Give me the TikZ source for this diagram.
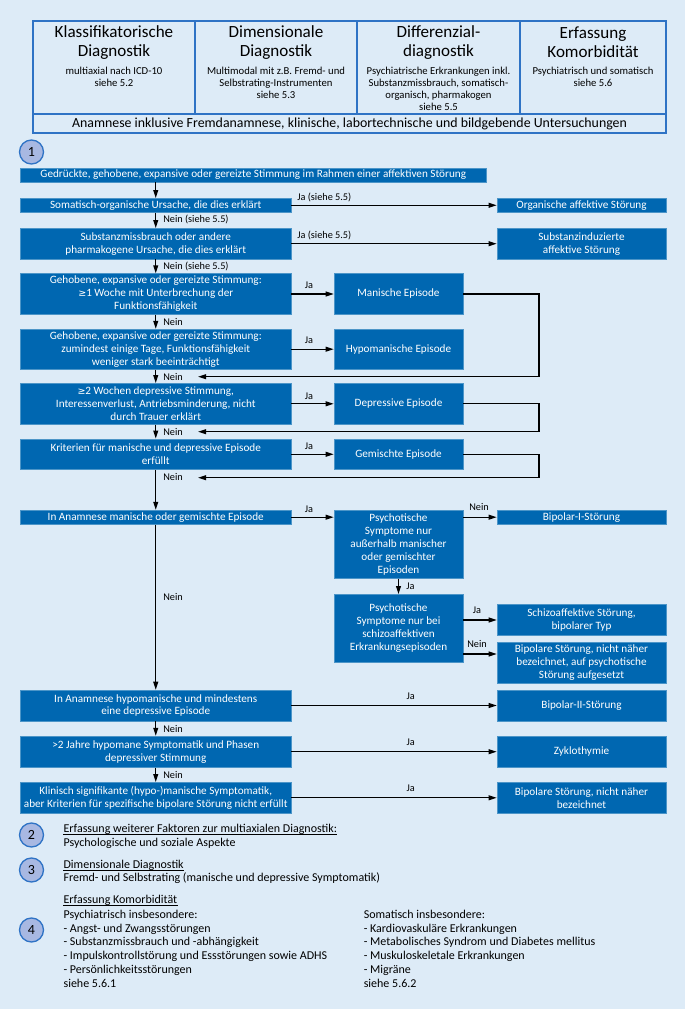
\documentclass[tikz,border=0pt]{standalone}
\usepackage{fontspec}
\setmainfont{Carlito}
\newfontfamily\symfont{DejaVu Sans}
\usetikzlibrary{arrows.meta}
\definecolor{bg}{RGB}{221,235,247}
\definecolor{dblue}{RGB}{0,103,177}
\definecolor{cfill}{RGB}{168,184,226}
\definecolor{cline}{RGB}{47,115,197}
\newcommand{\geqs}{{\symfont\scalebox{0.85}{≥}}}
\begin{document}
\begin{tikzpicture}[x=0.75pt,y=-0.75pt,
  wh/.style 2 args={minimum width=#1*0.75pt, minimum height=#2*0.75pt},
  fbox/.style={fill=dblue, draw=dblue!70!white, line width=0.4pt, text=white, align=center, inner sep=0pt, font=\fontsize{8.4}{9.7}\selectfont},
  hcell/.style={draw=cline, line width=1pt, inner sep=0pt},
  htitle/.style={align=center, inner sep=0pt, font=\fontsize{12.8}{14.3}\selectfont},
  hsub/.style={align=center, inner sep=0pt, font=\fontsize{8}{9}\selectfont},
  arr/.style={-{Triangle[length=6pt,width=3.6pt]}, line width=0.95pt},
  lab/.style={font=\fontsize{7.7}{8.5}\selectfont, inner sep=0pt},
  num/.style={circle, fill=cfill, draw=cline, line width=1pt, minimum size=18pt, inner sep=0pt, font=\fontsize{10.5}{12}\selectfont},
  btxt/.style={font=\fontsize{9}{10.4}\selectfont, inner sep=0pt, align=left, anchor=west},
  uline/.style={line width=0.5pt},
]
\fill[bg] (0,0) rectangle (685,1009);
\useasboundingbox (0,0) rectangle (685,1009);

% header
\node[hcell, wh={162}{93}] (h1) at (114,67.5) {};
\node[hcell, wh={162}{93}] (h2) at (276,67.5) {};
\node[hcell, wh={163}{93}] (h3) at (438.5,67.5) {};
\node[hcell, wh={146}{93}] (h4) at (593,67.5) {};
\node[hcell, wh={633}{19}] (h5) at (349.5,123.5) {};
\node[htitle] (t1) at (114,42.5) {Klassifikatorische\\Diagnostik};
\node[htitle] (t2) at (276,42.5) {Dimensionale\\Diagnostik};
\node[htitle] (t3) at (438.5,42.5) {Differenzial-\\diagnostik};
\node[htitle] (t4) at (593,42.5) {Erfassung\\Komorbidität};
\node[hsub] (s1) at (114,76.7) {multiaxial nach ICD-10\\siehe 5.2};
\node[hsub] (s2) at (276,82.7) {Multimodal mit z.B. Fremd- und\\Selbstrating-Instrumenten\\siehe 5.3};
\node[hsub] (s3) at (438.5,88.8) {Psychiatrische Erkrankungen inkl.\\Substanzmissbrauch, somatisch-\\organisch, pharmakogen\\siehe 5.5};
\node[hsub] (s4) at (593,76.7) {Psychiatrisch und somatisch\\siehe 5.6};
\node[inner sep=0pt, font=\fontsize{10.4}{12}\selectfont] (s5) at (349.5,123.8) {Anamnese inklusive Fremdanamnese, klinische, labortechnische und bildgebende Untersuchungen};

% step 1
\node[num] (n1) at (31.5,152) {1};
\node[fbox, wh={465.5}{14}] (bar) at (253.25,175) {Gedrückte, gehobene, expansive oder gereizte Stimmung im Rahmen einer affektiven Störung};

% left column
\node[fbox, wh={270.5}{14}] (soma) at (155.75,205.3) {Somatisch-organische Ursache, die dies erklärt};
\node[fbox, wh={270.5}{30.7}] (subst) at (155.75,243.7) {Substanzmissbrauch oder andere\\pharmakogene Ursache, die dies erklärt};
\node[fbox, wh={270.5}{40.6}] (manq) at (155.75,294) {Gehobene, expansive oder gereizte Stimmung:\\\geqs1 Woche mit Unterbrechung der\\Funktionsfähigkeit};
\node[fbox, wh={270.5}{40.3}] (hypq) at (155.75,349.2) {Gehobene, expansive oder gereizte Stimmung:\\zumindest einige Tage, Funktionsfähigkeit\\weniger stark beeinträchtigt};
\node[fbox, wh={270.5}{41}] (depq) at (155.75,403.8) {\geqs2 Wochen depressive Stimmung,\\Interessenverlust, Antriebsminderung, nicht\\durch Trauer erklärt};
\node[fbox, wh={270.5}{30.7}] (mixq) at (155.75,454.3) {Kriterien für manische und depressive Episode\\erfüllt};
\node[fbox, wh={270.5}{14.3}] (histman) at (155.75,517.2) {In Anamnese manische oder gemischte Episode};
\node[fbox, wh={270.5}{31}] (histhyp) at (155.75,705.5) {In Anamnese hypomanische und mindestens\\eine depressive Episode};
\node[fbox, wh={270.5}{31.3}] (zykq) at (155.75,751.7) {>2 Jahre hypomane Symptomatik und Phasen\\depressiver Stimmung};
\node[fbox, wh={270.5}{31}] (klin) at (155.75,797.8) {Klinisch signifikante (hypo-)manische Symptomatik,\\aber Kriterien für spezifische bipolare Störung nicht erfüllt};

% middle column
\node[fbox, wh={129}{40.6}] (mane) at (398.5,294) {Manische Episode};
\node[fbox, wh={129}{40.3}] (hype) at (398.5,349.2) {Hypomanische Episode};
\node[fbox, wh={129}{41}] (depe) at (398.5,403.8) {Depressive Episode};
\node[fbox, wh={129}{30.7}] (mixe) at (398.5,454.3) {Gemischte Episode};
\node[fbox, wh={129}{68.3}] (psy1) at (398.5,544.2) {Psychotische\\Symptome nur\\außerhalb manischer\\oder gemischter\\Episoden};
\node[fbox, wh={129}{68}] (psy2) at (398.5,628.3) {Psychotische\\Symptome nur bei\\schizoaffektiven\\Erkrankungsepisoden};

% right column
\node[fbox, wh={169}{14}] (org) at (581.5,205.3) {Organische affektive Störung};
\node[fbox, wh={169}{30.7}] (subind) at (581.5,243.7) {Substanzinduzierte\\affektive Störung};
\node[fbox, wh={169}{14.3}] (bip1) at (581.5,517.2) {Bipolar-I-Störung};
\node[fbox, wh={169}{31.4}] (schizo) at (581.5,620) {Schizoaffektive Störung,\\bipolarer Typ};
\node[fbox, wh={169}{41}] (bipnnb1) at (581.5,662.8) {Bipolare Störung, nicht näher\\bezeichnet, auf psychotische\\Störung aufgesetzt};
\node[fbox, wh={169}{31}] (bip2) at (581.5,705.5) {Bipolar-II-Störung};
\node[fbox, wh={169}{31.3}] (zyklo) at (581.5,751.7) {Zyklothymie};
\node[fbox, wh={169}{31}] (bipnnb2) at (581.5,797.8) {Bipolare Störung, nicht näher\\bezeichnet};

% vertical arrows
\draw[arr] (soma.north |- bar.south) -- (soma.north);
\draw[arr] (soma.south) -- (subst.north);
\draw[arr] (subst.south) -- (manq.north);
\draw[arr] (manq.south) -- (hypq.north);
\draw[arr] (hypq.south) -- (depq.north);
\draw[arr] (depq.south) -- (mixq.north);
\draw[arr] (mixq.south) -- (histman.north);
\draw[arr] (histman.south) -- (histhyp.north);
\draw[arr] (histhyp.south) -- (zykq.north);
\draw[arr] (zykq.south) -- (klin.north);
\draw[arr] (psy1.south) -- (psy2.north);

% horizontal arrows
\draw[arr] (soma.east) -- (org.west);
\draw[arr] (subst.east) -- (subind.west);
\draw[arr] (manq.east) -- (mane.west);
\draw[arr] (hypq.east) -- (hype.west);
\draw[arr] (depq.east) -- (depe.west);
\draw[arr] (mixq.east) -- (mixe.west);
\draw[arr] (histman.east) -- (psy1.west |- histman.east);
\draw[arr] (psy1.east |- bip1.west) -- (bip1.west);
\draw[arr] (psy2.east |- schizo.west) -- (schizo.west);
\coordinate (y654) at (0,654);
\draw[arr] (psy2.east |- y654) -- (bipnnb1.west |- y654);
\draw[arr] (histhyp.east) -- (bip2.west);
\draw[arr] (zykq.east) -- (zyklo.west);
\draw[arr] (klin.east) -- (bipnnb2.west);

% return loops
\coordinate (r1) at (198,376.7);
\coordinate (r2) at (198,431.7);
\coordinate (r3) at (198,477.7);
\draw[arr] (mane.east) -- ++(75.7,0) |- (r1);
\draw[arr] (depe.east) -- ++(75.7,0) |- (r2);
\draw[arr] (mixe.east) -- ++(75.7,0) |- (r3);

% labels
\node[lab, anchor=west] (la1) at (297,197) {Ja (siehe 5.5)};
\node[lab, anchor=west] (la2) at (297,235.7) {Ja (siehe 5.5)};
\node[lab, anchor=west] (ln1) at (163,219.3) {Nein (siehe 5.5)};
\node[lab, anchor=west] (ln2) at (163,266.7) {Nein (siehe 5.5)};
\node[lab] (la3) at (309,285) {Ja};
\node[lab] (la4) at (309,340.7) {Ja};
\node[lab] (la5) at (309,396) {Ja};
\node[lab] (la6) at (309,446) {Ja};
\node[lab] (la7) at (309,509) {Ja};
\node[lab, anchor=west] (ln3) at (163,321.7) {Nein};
\node[lab, anchor=west] (ln4) at (163,376.7) {Nein};
\node[lab, anchor=west] (ln5) at (163,432.3) {Nein};
\node[lab, anchor=west] (ln6) at (163,477.3) {Nein};
\node[lab, anchor=west] (ln7) at (163,597.3) {Nein};
\node[lab, anchor=west] (ln8) at (163,729) {Nein};
\node[lab, anchor=west] (ln9) at (163,775) {Nein};
\node[lab] (ln10) at (479,507.3) {Nein};
\node[lab, anchor=west] (la8) at (406,586.7) {Ja};
\node[lab] (la9) at (477,610.7) {Ja};
\node[lab] (ln11) at (477,644.3) {Nein};
\node[lab] (la10) at (410.7,696.7) {Ja};
\node[lab] (la11) at (410.7,742.3) {Ja};
\node[lab] (la12) at (410.7,788.3) {Ja};

% bottom section
\node[num] (n2) at (31.5,835) {2};
\node[num] (n3) at (31.5,870) {3};
\node[num] (n4) at (31.5,930) {4};
\node[btxt] (b1) at (63.3,829.3) {Erfassung weiterer Faktoren zur multiaxialen Diagnostik:};
\node[btxt] (b2) at (63.3,843.3) {Psychologische und soziale Aspekte};
\node[btxt] (b3) at (63.3,865) {Dimensionale Diagnostik};
\node[btxt] (b4) at (63.3,878.3) {Fremd- und Selbstrating (manische und depressive Symptomatik)};
\node[btxt] (b5) at (63.3,900) {Erfassung Komorbidität};
\draw[uline] ([yshift=-1.3pt]b1.base west) -- ([yshift=-1.3pt]b1.base east);
\draw[uline] ([yshift=-1.3pt]b3.base west) -- ([yshift=-1.3pt]b3.base east);
\draw[uline] ([yshift=-1.3pt]b5.base west) -- ([yshift=-1.3pt]b5.base east);
\node[btxt] (b6) at (63.3,948.7) {Psychiatrisch insbesondere:\\- Angst- und Zwangsstörungen\\- Substanzmissbrauch und -abhängigkeit\\- Impulskontrollstörung und Essstörungen sowie ADHS\\- Persönlichkeitsstörungen\\siehe 5.6.1};
\node[btxt] (b7) at (363.5,948.7) {Somatisch insbesondere:\\- Kardiovaskuläre Erkrankungen\\- Metabolisches Syndrom und Diabetes mellitus\\- Muskuloskeletale Erkrankungen\\- Migräne\\siehe 5.6.2};
\end{tikzpicture}
\end{document}
